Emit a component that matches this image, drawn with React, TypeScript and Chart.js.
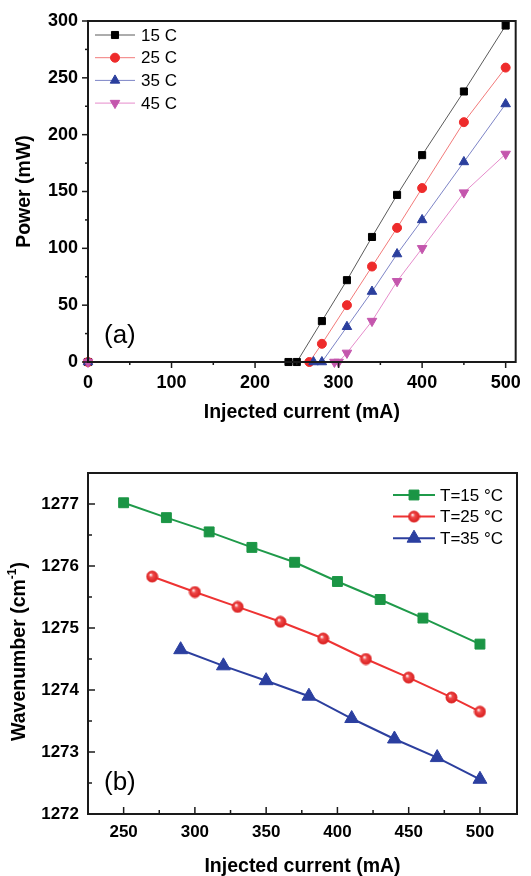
import React, { useEffect, useRef } from "react";
import { Chart, registerables } from "chart.js";
Chart.register(...registerables);

const FONT = "'Liberation Sans', Arial, Helvetica, sans-serif";

// ---------- Panel (a): output power vs injected current ----------
const currentA15 = [0, 240, 250, 280, 310, 340, 370, 400, 450, 500];
const power15 = [0, 0, 0, 36, 72, 110, 147, 182, 238, 296];
const currentA25 = [0, 265, 280, 310, 340, 370, 400, 450, 500];
const power25 = [0, 0, 16, 50, 84, 118, 153, 211, 259];
const currentA35 = [0, 270, 280, 310, 340, 370, 400, 450, 500];
const power35 = [0, 0, 0, 31, 62, 95, 125, 176, 227];
const currentA45 = [0, 295, 300, 310, 340, 370, 400, 450, 500];
const power45 = [0, 0, 0, 8, 36, 71, 100, 149, 183];
const labelsA = ["15 C", "25 C", "35 C", "45 C"];
const xTicksA = [0, 100, 200, 300, 400, 500];
const yTicksA = [0, 50, 100, 150, 200, 250, 300];

// ---------- Panel (b): wavenumber vs injected current ----------
const currentB15 = [250, 280, 310, 340, 370, 400, 430, 460, 500];
const wave15 = [1277.02, 1276.78, 1276.55, 1276.3, 1276.06, 1275.75, 1275.46, 1275.16, 1274.74];
const currentB25 = [270, 300, 330, 360, 390, 420, 450, 480, 500];
const wave25 = [1275.83, 1275.58, 1275.34, 1275.1, 1274.83, 1274.5, 1274.2, 1273.88, 1273.65];
const currentB35 = [290, 320, 350, 380, 410, 440, 470, 500];
const wave35 = [1274.65, 1274.39, 1274.15, 1273.9, 1273.54, 1273.21, 1272.91, 1272.56];
const labelsB = ["T=15 °C", "T=25 °C", "T=35 °C"];
const xTicksB = [250, 300, 350, 400, 450, 500];
const yTicksB = [1272, 1273, 1274, 1275, 1276, 1277];

const toXY = (xs: number[], ys: number[]) => xs.map((x, i) => ({ x, y: ys[i] }));

function drawMarker(ctx: CanvasRenderingContext2D, style: any, x: number, y: number, r: number, rot: number, fill: string, stroke: string, bw: number) {
  if (style && typeof style === "object") {
    ctx.drawImage(style, x - style.width / 2, y - style.height / 2);
    return;
  }
  ctx.save();
  ctx.beginPath();
  const rad = (rot * Math.PI) / 180;
  if (style === "rect") {
    const s = r * Math.SQRT1_2;
    ctx.rect(x - s, y - s, 2 * s, 2 * s);
  } else if (style === "triangle") {
    let a = rad;
    ctx.moveTo(x + Math.sin(a) * r, y - Math.cos(a) * r);
    a += (2 * Math.PI) / 3;
    ctx.lineTo(x + Math.sin(a) * r, y - Math.cos(a) * r);
    a += (2 * Math.PI) / 3;
    ctx.lineTo(x + Math.sin(a) * r, y - Math.cos(a) * r);
    ctx.closePath();
  } else {
    ctx.arc(x, y, r, 0, Math.PI * 2);
  }
  ctx.fillStyle = fill;
  ctx.fill();
  ctx.lineWidth = bw;
  ctx.strokeStyle = stroke;
  ctx.stroke();
  ctx.restore();
}

function makeSphere(r: number) {
  const c = document.createElement("canvas");
  const s = Math.ceil(r * 2 + 2);
  c.width = s;
  c.height = s;
  const g = c.getContext("2d")!;
  const cx = s / 2, cy = s / 2;
  const grad = g.createRadialGradient(cx - r * 0.3, cy - r * 0.35, r * 0.05, cx, cy, r);
  grad.addColorStop(0, "#ffffff");
  grad.addColorStop(0.35, "#f04a4a");
  grad.addColorStop(1, "#d81e1e");
  g.fillStyle = grad;
  g.beginPath();
  g.arc(cx, cy, r, 0, Math.PI * 2);
  g.fill();
  g.strokeStyle = "#e02a2a";
  g.lineWidth = 1;
  g.stroke();
  return c;
}

// Frame (full box) + major/minor ticks
const framePlugin = {
  id: "frame",
  afterDatasetsDraw(chart: any, _a: any, o: any) {
    const { ctx, chartArea: ca } = chart;
    const xs = chart.scales.x, ys = chart.scales.y;
    ctx.save();
    ctx.strokeStyle = "#1a1a1a";
    ctx.lineWidth = o.lw;
    ctx.strokeRect(ca.left, ca.top, ca.right - ca.left, ca.bottom - ca.top);
    ctx.lineWidth = o.tw;
    const vals = (sc: any) => {
      const t = sc.ticks.map((k: any) => k.value);
      const minor: number[] = [];
      const step = t[1] - t[0];
      for (let i = -1; i < t.length; i++) {
        const v = (i < 0 ? t[0] - step : t[i]) + step / 2;
        minor.push(v);
      }
      return { t, minor };
    };
    const xv = vals(xs);
    const drawX = (v: number, len: number) => {
      const p = xs.getPixelForValue(v);
      if (p < ca.left + 2 || p > ca.right - 2) return;
      const d = o.xOut ? 1 : -1;
      ctx.beginPath();
      ctx.moveTo(p, ca.bottom);
      ctx.lineTo(p, ca.bottom + d * len);
      ctx.stroke();
    };
    xv.t.forEach((v: number) => drawX(v, o.major));
    xv.minor.forEach((v: number) => drawX(v, o.minor));
    const yv = vals(ys);
    const drawY = (v: number, len: number, allowEdge: boolean) => {
      const p = ys.getPixelForValue(v);
      if (!allowEdge && (p < ca.top + 2 || p > ca.bottom - 2)) return;
      if (p < ca.top - 1 || p > ca.bottom + 1) return;
      const d = o.yOut ? -1 : 1;
      ctx.beginPath();
      ctx.moveTo(ca.left, p);
      ctx.lineTo(ca.left + d * len, p);
      ctx.stroke();
    };
    yv.t.forEach((v: number) => drawY(v, o.major, o.yOut));
    yv.minor.forEach((v: number) => drawY(v, o.minor, false));
    ctx.restore();
  },
};

// Legend drawn inside the plot area, plus the panel letter
const insidePlugin = {
  id: "inside",
  afterDraw(chart: any, _a: any, o: any) {
    const { ctx, chartArea: ca } = chart;
    ctx.save();
    const x0 = o.fromRight ? ca.right - o.x : ca.left + o.x;
    chart.data.datasets.forEach((ds: any, i: number) => {
      const y = ca.top + o.y + i * o.dy;
      ctx.strokeStyle = ds.borderColor;
      ctx.lineWidth = ds.borderWidth;
      ctx.beginPath();
      ctx.moveTo(x0, y);
      ctx.lineTo(x0 + o.lineLen, y);
      ctx.stroke();
      drawMarker(ctx, ds.pointStyle, x0 + o.lineLen / 2, y, ds.pointRadius, ds.pointRotation || 0, ds.pointBackgroundColor, ds.pointBorderColor, ds.pointBorderWidth || 1);
      ctx.fillStyle = "#000";
      ctx.font = `${o.fontSize}px ${FONT}`;
      ctx.textBaseline = "middle";
      ctx.textAlign = "left";
      ctx.fillText(ds.label, x0 + o.lineLen + o.gap, y + 1);
    });
    ctx.font = `${o.letterSize}px ${FONT}`;
    ctx.textBaseline = "middle";
    ctx.textAlign = "left";
    ctx.fillStyle = "#000";
    ctx.fillText(o.letter, ca.left + o.letterX, ca.bottom - o.letterY);
    if (o.yTitle) {
      const big = `bold ${o.yTitle.size}px ${FONT}`;
      const small = `bold ${Math.round(o.yTitle.size * 0.6)}px ${FONT}`;
      ctx.font = big;
      const w1 = ctx.measureText(o.yTitle.main).width;
      const w3 = ctx.measureText(o.yTitle.end).width;
      ctx.font = small;
      const w2 = ctx.measureText(o.yTitle.sup).width;
      const total = w1 + w2 + w3;
      ctx.translate(o.yTitle.x, (ca.top + ca.bottom) / 2 + o.yTitle.dy);
      ctx.rotate(-Math.PI / 2);
      ctx.textAlign = "left";
      ctx.textBaseline = "middle";
      let cx = -total / 2;
      ctx.font = big;
      ctx.fillText(o.yTitle.main, cx, 0);
      cx += w1;
      ctx.font = small;
      ctx.fillText(o.yTitle.sup, cx, -o.yTitle.size * 0.35);
      cx += w2;
      ctx.font = big;
      ctx.fillText(o.yTitle.end, cx, 0);
    }
    ctx.restore();
  },
};

function axisCommon(ticks: number[], size: number, padding: number, fitKey: "width" | "height", fitVal: number) {
  return {
    type: "linear" as const,
    afterBuildTicks: (s: any) => {
      s.ticks = ticks.map((v) => ({ value: v }));
    },
    afterFit: (s: any) => {
      s[fitKey] = fitVal;
    },
    grid: { display: false, drawTicks: false },
    border: { display: false },
    ticks: {
      font: { family: FONT, size, weight: "bold" as const },
      color: "#000",
      padding,
      maxRotation: 0,
      autoSkip: false,
      callback: (v: any) => String(v),
    },
  };
}

function PanelA() {
  const ref = useRef<HTMLCanvasElement>(null);
  useEffect(() => {
    const mk = (xs: number[], ys: number[], i: number, line: string, fill: string, style: string, r: number, rot: number) => ({
      label: labelsA[i],
      data: toXY(xs, ys),
      borderColor: line,
      borderWidth: 1,
      pointStyle: style,
      pointRadius: r,
      pointRotation: rot,
      pointBackgroundColor: fill,
      pointBorderColor: fill,
      pointBorderWidth: 1,
      tension: 0,
      clip: false as const,
      order: 4 - i,
    });
    const chart = new Chart(ref.current!, {
      type: "line",
      data: {
        datasets: [
          mk(currentA15, power15, 0, "#5a5a5a", "#000000", "rect", 5, 0),
          mk(currentA25, power25, 1, "#f27a7a", "#ee2b2b", "circle", 4.5, 0),
          mk(currentA35, power35, 2, "#7d84c6", "#2b3f9d", "triangle", 5.5, 0),
          mk(currentA45, power45, 3, "#e68ccb", "#c456ad", "triangle", 5.5, 180),
        ] as any,
      },
      options: {
        animation: false,
        responsive: false,
        maintainAspectRatio: false,
        layout: { padding: { top: 21, right: 14, left: 0, bottom: 0 } },
        scales: {
          x: {
            ...axisCommon(xTicksA, 18, 10, "height", 68),
            min: 0,
            max: 512,
            title: {
              display: true,
              text: "Injected current (mA)",
              color: "#000",
              font: { family: FONT, size: 19.5, weight: "bold", lineHeight: 1 },
              padding: { top: 0, bottom: 7.5 },
            },
          },
          y: {
            ...axisCommon(yTicksA, 18, 10, "width", 88),
            min: 0,
            max: 300,
            title: {
              display: true,
              text: "Power (mW)",
              color: "#000",
              font: { family: FONT, size: 19.5, weight: "bold", lineHeight: 1 },
              padding: { top: 15, bottom: 0 },
            },
          },
        } as any,
        plugins: {
          legend: { display: false },
          tooltip: { enabled: false },
          frame: { lw: 2, tw: 1.5, xOut: true, yOut: true, major: 6, minor: 3 },
          inside: { x: 7, y: 14, dy: 22.7, lineLen: 40, gap: 6, fontSize: 17, letter: "(a)", letterSize: 26, letterX: 16, letterY: 26 },
        } as any,
      },
      plugins: [framePlugin, insidePlugin],
    });
    return () => chart.destroy();
  }, []);
  return <canvas ref={ref} width={531} height={430} style={{ display: "block", width: 531, height: 430 }} />;
}

function PanelB() {
  const ref = useRef<HTMLCanvasElement>(null);
  useEffect(() => {
    const sphere = makeSphere(5.5);
    const mk = (xs: number[], ys: number[], i: number, line: string, fill: string, style: any, r: number) => ({
      label: labelsB[i],
      data: toXY(xs, ys),
      borderColor: line,
      borderWidth: 2,
      pointStyle: style,
      pointRadius: r,
      pointRotation: 0,
      pointBackgroundColor: fill,
      pointBorderColor: fill,
      pointBorderWidth: 1,
      tension: 0,
      clip: false as const,
    });
    const chart = new Chart(ref.current!, {
      type: "line",
      data: {
        datasets: [
          mk(currentB15, wave15, 0, "#1f9a4a", "#1b9545", "rect", 7),
          mk(currentB25, wave25, 1, "#ee3333", "#e83030", sphere, 5.5),
          mk(currentB35, wave35, 2, "#2c3f9e", "#2b3fa0", "triangle", 8),
        ] as any,
      },
      options: {
        animation: false,
        responsive: false,
        maintainAspectRatio: false,
        layout: { padding: { top: 43, right: 14, left: 0, bottom: 0 } },
        scales: {
          x: {
            ...axisCommon(xTicksB, 17, 8, "height", 62),
            min: 225,
            max: 526,
            title: {
              display: true,
              text: "Injected current (mA)",
              color: "#000",
              font: { family: FONT, size: 19.5, weight: "bold", lineHeight: 1 },
              padding: { top: 0, bottom: 0 },
            },
          },
          y: {
            ...axisCommon(yTicksB, 17, 9, "width", 88),
            min: 1272,
            max: 1277.5,
            title: { display: false },
          },
        } as any,
        plugins: {
          legend: { display: false },
          tooltip: { enabled: false },
          frame: { lw: 2, tw: 1.5, xOut: false, yOut: false, major: 7, minor: 4 },
          inside: {
            fromRight: true, x: 124, y: 22, dy: 21.6, lineLen: 42, gap: 5, fontSize: 17,
            letter: "(b)", letterSize: 26, letterX: 16, letterY: 31,
            yTitle: { main: "Wavenumber (cm", sup: "-1", end: ")", size: 19.5, x: 20, dy: 8 },
          },
        } as any,
      },
      plugins: [framePlugin, insidePlugin],
    });
    return () => chart.destroy();
  }, []);
  return <canvas ref={ref} width={531} height={446} style={{ display: "block", width: 531, height: 446 }} />;
}

export default function App() {
  return (
    <div style={{ position: "absolute", left: 0, top: 0, width: 531, height: 876, background: "#fff" }}>
      <PanelA />
      <PanelB />
    </div>
  );
}
